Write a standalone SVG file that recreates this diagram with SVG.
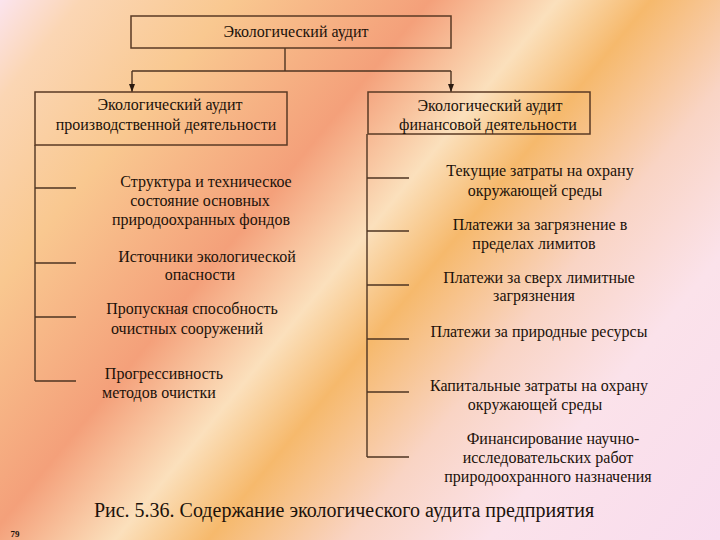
<svg xmlns="http://www.w3.org/2000/svg" width="720" height="540" viewBox="0 0 720 540">
<defs>
<linearGradient id="bg" gradientUnits="userSpaceOnUse" x1="0" y1="0" x2="695" y2="570">
<stop offset="0" stop-color="#fbe4ee"/>
<stop offset="0.07" stop-color="#fbd6b4"/>
<stop offset="0.2" stop-color="#f9c890"/>
<stop offset="0.37" stop-color="#f4a07a"/>
<stop offset="0.48" stop-color="#fbe0bc"/>
<stop offset="0.56" stop-color="#f6b96c"/>
<stop offset="0.68" stop-color="#f9d4c4"/>
<stop offset="0.8" stop-color="#fbe2ea"/>
<stop offset="1" stop-color="#f8dcee"/>
</linearGradient>
<marker id="arr" viewBox="0 0 8 6" refX="8" refY="3" markerWidth="8" markerHeight="6" orient="auto" markerUnits="userSpaceOnUse">
<path d="M0,0 L8,3 L0,6 Z" fill="#2a1a10"/>
</marker>
</defs>
<rect width="720" height="540" fill="url(#bg)"/>
<g id="connectors" fill="none" stroke="#4e3422" stroke-width="1.4">
<path d="M285,48 V71"/>
<path d="M132,71 H451"/>
<path d="M132,71 V92" marker-end="url(#arr)"/>
<path d="M451,71 V92" marker-end="url(#arr)"/>
<path d="M35,145 V381"/>
<path d="M35,188 H76 M35,263 H76 M35,317 H76 M35,381 H76"/>
<path d="M367,134 V457"/>
<path d="M367,178 H409 M367,231 H409 M367,285 H409 M367,339 H409 M367,392 H409 M367,457 H409"/>
</g>
<g fill="#1c120a" font-family="Liberation Serif" font-size="16" text-anchor="middle">
<g id="root">
<rect x="131" y="16" width="320" height="32" fill="none" stroke="#5a3a24" stroke-width="1.5"/>
<text x="296" y="37">Экологический аудит</text>
</g>
<g id="prod">
<rect x="35" y="92" width="252" height="53" fill="none" stroke="#5a3a24" stroke-width="1.5"/>
<text x="170" y="110">Экологический аудит</text>
<text x="166" y="130">производственной деятельности</text>
</g>
<g id="fin">
<rect x="368" y="92" width="222" height="42" fill="none" stroke="#5a3a24" stroke-width="1.5"/>
<text x="490" y="111">Экологический аудит</text>
<text x="488" y="130">финансовой деятельности</text>
</g>
<g id="p1">
<text x="206" y="187">Структура и техническое</text>
<text x="200" y="206">состояние основных</text>
<text x="201" y="225">природоохранных фондов</text>
</g>
<g id="p2">
<text x="207" y="262">Источники экологической</text>
<text x="200" y="280">опасности</text>
</g>
<g id="p3">
<text x="192" y="314">Пропускная способность</text>
<text x="187" y="334">очистных сооружений</text>
</g>
<g id="p4">
<text x="164" y="379">Прогрессивность</text>
<text x="159" y="398">методов очистки</text>
</g>
<g id="f1">
<text x="540" y="176">Текущие затраты на охрану</text>
<text x="535" y="196">окружающей среды</text>
</g>
<g id="f2">
<text x="540" y="230">Платежи за загрязнение в</text>
<text x="534" y="249">пределах лимитов</text>
</g>
<g id="f3">
<text x="539" y="283">Платежи за сверх лимитные</text>
<text x="534" y="301">загрязнения</text>
</g>
<g id="f4">
<text x="539" y="337">Платежи за природные ресурсы</text>
</g>
<g id="f5">
<text x="539" y="391">Капитальные затраты на охрану</text>
<text x="535" y="410">окружающей среды</text>
</g>
<g id="f6">
<text x="553" y="444">Финансирование научно-</text>
<text x="548" y="463">исследовательских работ</text>
<text x="548" y="482">природоохранного назначения</text>
</g>
<text x="344" y="517" font-size="20">Рис. 5.36. Содержание экологического аудита предприятия</text>
<text x="15" y="537" font-size="9" font-weight="bold">79</text>
</g>
</svg>
